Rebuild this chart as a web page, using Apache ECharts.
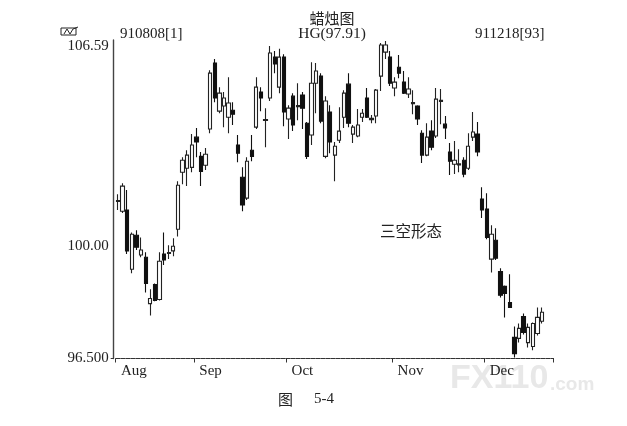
<!DOCTYPE html>
<html><head><meta charset="utf-8">
<style>html,body{margin:0;padding:0;background:#fff}#c{width:627px;height:426px}</style>
<script src="https://cdn.jsdelivr.net/npm/echarts@6/dist/echarts.min.js"></script></head>
<body><div id="c"></div>
<script>
const opens=[101.44,101.13,101.17,99.28,100.36,99.73,99.66,98.20,98.80,98.33,
99.76,99.78,99.86,100.55,102.39,102.52,102.55,103.54,102.91,102.62,
103.81,106.01,104.40,104.57,104.20,104.43,103.28,102.23,101.55,103.11,
103.87,105.04,104.09,104.84,106.21,105.20,106.21,104.14,104.90,104.55,
104.94,104.00,103.61,105.33,105.57,102.91,104.37,102.95,103.44,104.20,
105.30,103.64,103.58,104.20,104.84,104.12,104.24,105.57,106.38,106.21,
105.17,105.87,105.37,104.97,104.65,104.57,103.67,102.95,103.74,103.58,
104.72,103.97,103.05,102.65,102.63,102.78,102.52,103.54,103.64,101.52,
101.20,99.60,100.20,99.21,98.74,98.23,97.15,97.12,97.80,96.99,
96.87,97.27,97.65];
const closes=[101.47,101.94,99.86,100.39,99.98,99.89,98.83,98.36,98.30,99.53,
99.57,99.81,100.01,101.97,102.78,102.95,103.28,103.38,102.42,102.98,
105.67,104.84,105.00,104.84,104.67,104.30,103.01,101.33,102.75,102.91,
105.20,104.84,104.12,106.35,105.98,106.21,104.37,104.50,103.94,104.59,
104.50,102.91,105.33,105.74,104.07,104.74,103.38,103.24,103.74,105.00,
104.00,103.87,103.94,104.33,104.20,104.16,105.10,106.62,106.62,105.33,
105.37,105.67,105.00,105.14,104.69,104.14,102.95,103.54,103.21,104.80,
104.76,103.84,102.75,102.78,102.67,102.33,103.24,103.71,103.05,101.17,
100.29,100.39,99.63,98.46,98.52,98.08,96.65,97.43,97.30,97.46,
97.58,97.77,97.93];
const lows=[101.17,101.07,99.76,99.15,99.89,99.66,98.55,97.83,98.27,98.30,
99.41,99.60,99.69,100.32,102.00,101.94,102.39,102.88,101.94,102.46,
103.67,104.70,104.33,103.87,103.67,103.94,102.72,101.13,101.49,102.75,
103.81,104.40,103.21,104.74,105.67,105.00,103.90,103.48,103.74,104.10,
103.81,102.82,103.28,104.33,104.00,102.85,103.01,102.10,103.35,103.84,
103.87,103.35,103.54,104.04,104.17,104.00,104.00,105.07,106.15,105.24,
104.90,105.50,104.97,104.84,104.30,103.94,102.69,102.91,103.11,103.51,
103.97,103.48,102.30,102.33,102.39,102.23,102.46,103.41,102.91,100.91,
100.23,99.18,99.57,98.39,97.77,98.08,96.53,96.99,97.24,96.84,
96.75,97.21,97.58];
const highs=[101.68,102.03,101.81,100.45,100.52,100.29,99.82,98.65,98.83,99.82,
100.45,100.04,100.26,102.10,102.88,103.11,103.64,103.84,103.05,103.18,
105.77,106.15,105.20,105.04,105.53,104.70,103.61,102.55,102.88,103.61,
105.53,105.20,104.50,106.59,106.42,106.49,106.31,104.60,105.00,105.33,
105.04,104.04,106.04,106.01,105.67,104.90,104.60,103.38,104.53,105.10,
105.67,103.94,104.47,104.47,105.17,104.27,105.14,106.69,106.76,106.42,
105.53,106.28,105.74,105.53,105.10,104.60,103.77,104.00,104.10,105.17,
105.14,104.24,103.35,103.41,103.14,102.88,103.67,104.37,104.04,101.90,
101.71,100.68,100.58,99.31,98.77,99.12,97.49,97.58,97.89,97.58,
97.61,98.08,98.08];
const monthNames=['Aug','Sep','Oct','Nov','Dec'];
const monthStarts=[0,17,37,60,80];
const yTicks=[96.5,100,106.59];
const yTickLabels=['96.500','100.00','106.59'];
const slotCount=95;
const categories=Array.from({length:slotCount},(_,i)=>{const k=monthStarts.indexOf(i);return k>=0?monthNames[k]:'';});
const candles=opens.map((o,i)=>[o,closes[i],lows[i],highs[i]]);
const serif='"Liberation Serif","DejaVu Serif",serif', cjk='"Noto Sans CJK SC",sans-serif', ink='#222';
const txt=(x,y,text,size,align,font,fill,weight)=>({type:'text',x,y,silent:true,style:{text,fontSize:size,fontFamily:font||serif,fill:fill||ink,align:align||'left',verticalAlign:'middle',fontWeight:weight||'normal'}});
const chart=echarts.init(document.getElementById('c'),null,{renderer:'canvas'});
chart.setOption({
 animation:false,backgroundColor:'#fff',
 grid:{left:115.7,top:40,width:437.9,height:318.5,containLabel:false},
 xAxis:{type:'category',data:categories,boundaryGap:true,
  axisLine:{show:true,lineStyle:{color:'#333',width:1,type:[4,1]}},
  axisTick:{show:true,alignWithLabel:false,length:4,interval:(i)=>monthStarts.includes(i),lineStyle:{color:'#333'}},
  axisLabel:{show:true,interval:(i,v)=>v!=='',align:'left',margin:5,padding:[0,0,0,3],fontFamily:serif,fontSize:15,color:ink},
  splitLine:{show:false}},
 yAxis:{type:'log',min:96.5,max:106.79,offset:2,scale:true,
  axisLine:{show:true,lineStyle:{color:'#444',width:1.4}},
  axisTick:{show:true,length:3,customValues:[yTicks[0]],lineStyle:{color:'#333'}},
  axisLabel:{show:true,margin:5,customValues:yTicks,fontFamily:serif,fontSize:15,color:ink,
   formatter:(v)=>yTickLabels[yTicks.findIndex(t=>Math.abs(t-v)<0.01)]},
  splitLine:{show:false},minorTick:{show:false}},
 series:[{type:'candlestick',data:candles,barWidth:3.8,clip:false,
  itemStyle:{color:'#fff',color0:'#111',borderColor:'#222',borderColor0:'#111',borderWidth:1.1}}],
 graphic:[
  txt(332,18,'蜡烛图',15,'center',cjk),
  txt(120,34,'910808[1]',15),
  txt(332,34,'HG(97.91)',15.5,'center'),
  txt(475,34,'911218[93]',15),
  txt(380,231,'三空形态',15.5,'left',cjk),
  txt(278,399,'图',15,'left',cjk),
  txt(314,399,'5-4',15),
  txt(450,379,'FX110',34,'left','"Liberation Sans",sans-serif','#e8e8e8','bold'),
  txt(550,385,'.com',19,'left','"Liberation Sans",sans-serif','#e8e8e8','bold'),
  {type:'rect',silent:true,shape:{x:61,y:28,width:15,height:7},style:{fill:'none',stroke:ink,lineWidth:1}},
  {type:'polyline',silent:true,shape:{points:[[64,34],[67,29],[70,34],[73,29],[78,27]]},style:{fill:'none',stroke:ink,lineWidth:1}}
 ]
});
</script></body></html>
